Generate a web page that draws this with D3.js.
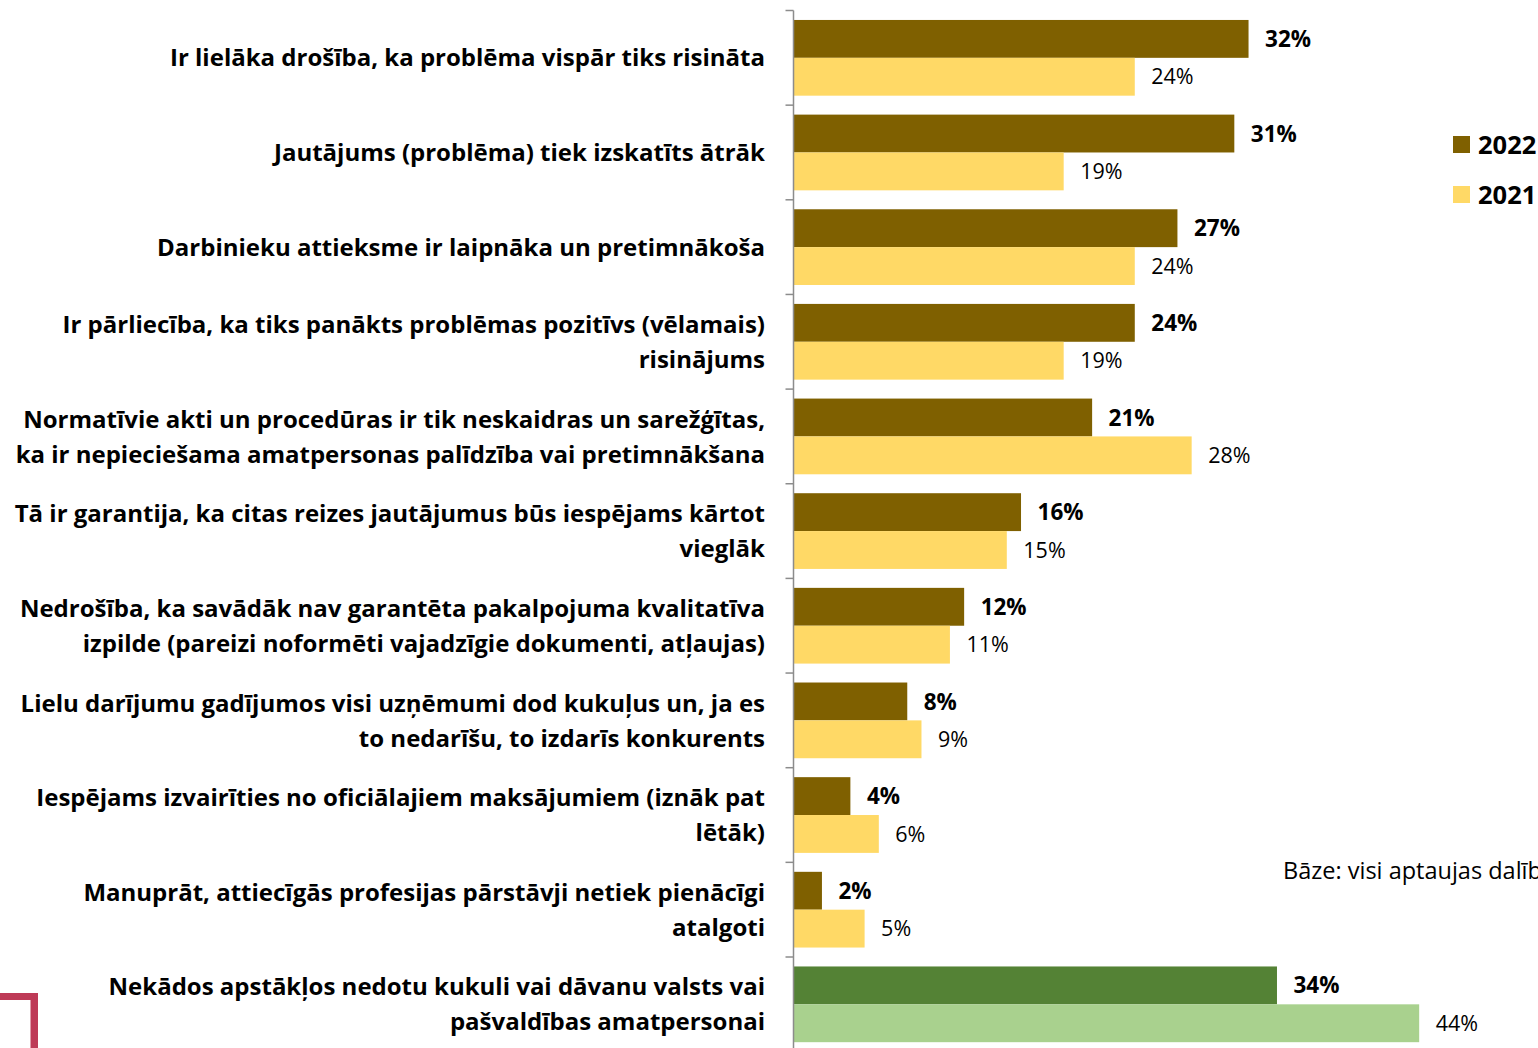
<!DOCTYPE html>
<html>
<head>
<meta charset="utf-8">
<script src="https://cdn.jsdelivr.net/npm/d3@7"></script>
<style>
  html, body { margin: 0; padding: 0; background: #fff; overflow: hidden; }
  svg { display: block; }
  text { font-family: "Open Sans", "Noto Sans", sans-serif; fill: #000; }
</style>
</head>
<body>
<svg id="chart" width="1538" height="1048"></svg>
<script>
// Reasons given for giving bribes or gifts to officials, 2022 vs 2021 (% of respondents)
const categories = [
  "Ir lielāka drošība, ka problēma vispār tiks risināta",
  "Jautājums (problēma) tiek izskatīts ātrāk",
  "Darbinieku attieksme ir laipnāka un pretimnākoša",
  "Ir pārliecība, ka tiks panākts problēmas pozitīvs (vēlamais)\nrisinājums",
  "Normatīvie akti un procedūras ir tik neskaidras un sarežģītas,\nka ir nepieciešama amatpersonas palīdzība vai pretimnākšana",
  "Tā ir garantija, ka citas reizes jautājumus būs iespējams kārtot\nvieglāk",
  "Nedrošība, ka savādāk nav garantēta pakalpojuma kvalitatīva\nizpilde (pareizi noformēti vajadzīgie dokumenti, atļaujas)",
  "Lielu darījumu gadījumos visi uzņēmumi dod kukuļus un, ja es\nto nedarīšu, to izdarīs konkurents",
  "Iespējams izvairīties no oficiālajiem maksājumiem (iznāk pat\nlētāk)",
  "Manuprāt, attiecīgās profesijas pārstāvji netiek pienācīgi\natalgoti",
  "Nekādos apstākļos nedotu kukuli vai dāvanu valsts vai\npašvaldības amatpersonai"
];
const values2022 = [32, 31, 27, 24, 21, 16, 12, 8, 4, 2, 34];
const values2021 = [24, 19, 24, 19, 28, 15, 11, 9, 6, 5, 44];
const seriesNames = ["2022", "2021"];
const baseNote = "Bāze: visi aptaujas dalībnieki";

const colors = {
  "2022": "#7F6000",
  "2021": "#FFD966",
  "2022-alt": "#548235",
  "2021-alt": "#A9D18E"
};

const svg = d3.select("#chart");

const x0 = 793.5;
const x = d3.scaleLinear().domain([0, 50]).range([x0, x0 + 711]);
const y = d3.scaleBand().domain(d3.range(categories.length))
  .range([10.5, 10.5 + 94.65 * categories.length]).paddingInner(0.2).paddingOuter(0.1);
const ySub = d3.scaleBand().domain(seriesNames).range([0, y.bandwidth()]);

const rows = categories.map((c, i) => ({
  i, label: c,
  vals: [
    { s: "2022", v: values2022[i] },
    { s: "2021", v: values2021[i] }
  ]
}));

const groups = svg.selectAll("g.row").data(rows).join("g")
  .attr("class", "row")
  .attr("transform", d => `translate(0,${y(d.i)})`);

groups.selectAll("rect").data(d => d.vals.map(v => ({ ...v, last: d.i === categories.length - 1 })))
  .join("rect")
  .attr("x", x(0))
  .attr("y", d => ySub(d.s))
  .attr("width", d => x(d.v) - x(0))
  .attr("height", ySub.bandwidth())
  .attr("fill", d => d.last ? colors[d.s + "-alt"] : colors[d.s]);

groups.selectAll("text.val").data(d => d.vals)
  .join("text")
  .attr("class", "val")
  .attr("x", d => x(d.v) + 16.5)
  .attr("y", d => ySub(d.s) + ySub.bandwidth() / 2)
  .attr("dy", "0.36em")
  .style("font-size", d => d.s === "2022" ? "22.5px" : "21.5px")
  .style("font-weight", d => d.s === "2022" ? 700 : 400)
  .text(d => d.v + "%");

// Category axis: vertical line with tick marks between categories
const axis = svg.append("g").attr("class", "axis");
const step = y.step();
const outer = y.paddingOuter() * step;
const bounds = d3.range(categories.length + 1).map(k => y(0) - outer + k * step);
axis.append("line")
  .attr("x1", x0).attr("x2", x0)
  .attr("y1", bounds[0]).attr("y2", bounds[bounds.length - 1])
  .attr("stroke", "#8c8c8c").attr("stroke-width", 1.5);
axis.selectAll("line.tick").data(bounds).join("line")
  .attr("class", "tick")
  .attr("x1", x0 - 8).attr("x2", x0)
  .attr("y1", d => d).attr("y2", d => d)
  .attr("stroke", "#8c8c8c").attr("stroke-width", 1.5);

// Category labels, right-aligned beside the axis
const lineH = 35;
groups.append("text")
  .attr("text-anchor", "end")
  .style("font-size", "24px")
  .style("font-weight", 700)
  .each(function(d) {
    const lines = d.label.split("\n");
    const cy = y.bandwidth() / 2;
    const t = d3.select(this);
    lines.forEach((ln, k) => {
      t.append("tspan")
        .attr("x", 765)
        .attr("y", cy + (k - (lines.length - 1) / 2) * lineH)
        .attr("dy", "0.36em")
        .text(ln);
    });
  });

// Legend
const legend = svg.append("g").attr("transform", "translate(1453,136)");
seriesNames.forEach((s, k) => {
  const g = legend.append("g").attr("transform", `translate(0,${k * 50})`);
  g.append("rect").attr("width", 17).attr("height", 17).attr("fill", colors[s]);
  g.append("text").attr("x", 25).attr("y", 8.5).attr("dy", "0.36em")
    .style("font-size", "25.5px").style("font-weight", 700).text(s);
});

// Sample base note
svg.append("text")
  .attr("x", 1283).attr("y", 871).attr("dy", "0.36em")
  .style("font-size", "23.5px")
  .text(baseNote);

// Corner mark
svg.append("path")
  .attr("d", "M0,993 H38 V1048 H30.5 V1000 H0 Z")
  .attr("fill", "#BE3A57");
</script>
</body>
</html>
